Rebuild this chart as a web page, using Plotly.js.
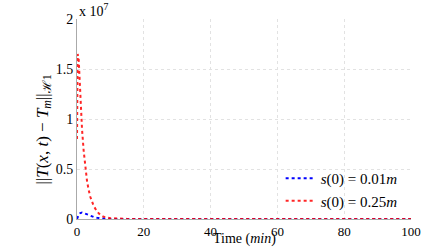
<!DOCTYPE html>
<html><head><meta charset="utf-8">
<script src="https://cdn.plot.ly/plotly-3.0.1.min.js"></script>
<style>html,body{margin:0;padding:0;background:#fff}#c{width:443px;height:249px}</style>
</head><body><div id="c"></div>
<script>
// values in units of 1e7
const timeRed = [0, 0.2, 0.5, 0.75, 1, 1.5, 2, 2.5, 3, 3.5, 4, 5, 6, 7, 8, 10, 12, 15, 20, 30, 40, 50, 60, 70, 80, 90, 100];
const normRed = [0.8, 1.65, 1.6, 1.4, 1.2, 0.9, 0.68, 0.5, 0.38, 0.29, 0.22, 0.13, 0.075, 0.04, 0.022, 0.008, 0.003, 0.001, 0, 0, 0, 0, 0, 0, 0, 0, 0];
const timeBlue = [0, 0.5, 1, 1.5, 2, 3, 4, 5, 6, 7, 8, 10, 15, 20, 30, 40, 50, 60, 70, 80, 90, 100];
const normBlue = [0, 0.04, 0.06, 0.065, 0.06, 0.045, 0.03, 0.02, 0.012, 0.007, 0.004, 0.001, 0, 0, 0, 0, 0, 0, 0, 0, 0, 0];
const labelBlue = '<i>s</i>(0) = 0.01<i>m</i>';
const labelRed = '<i>s</i>(0) = 0.25<i>m</i>';
const xTicks = [0, 20, 40, 60, 80, 100];
const yTicks = [0, 0.5, 1, 1.5, 2];
const yTickText = ['0', '0.5', '1', '1.5', '2'];

const fam = 'Liberation Serif';
const traces = [
  {x: timeBlue, y: normBlue, type: 'scatter', mode: 'lines', name: labelBlue,
   line: {color: 'rgb(0,0,255)', width: 2, dash: 'dot'}},
  {x: timeRed, y: normRed, type: 'scatter', mode: 'lines', name: labelRed,
   line: {color: 'rgb(255,0,0)', width: 2, dash: 'dot'}, opacity: 0.85}
];
const layout = {
  width: 443, height: 249,
  margin: {l: 77, r: 32, t: 19, b: 30},
  paper_bgcolor: '#fff', plot_bgcolor: '#fff',
  font: {family: fam, size: 13, color: '#000'},
  showlegend: true,
  legend: {x: 0.975, y: 0.01, xanchor: 'right', yanchor: 'bottom', bgcolor: 'rgba(0,0,0,0)',
    font: {family: fam, size: 15, color: '#000'}, itemwidth: 30, tracegroupgap: 0},
  xaxis: {range: [0, 100], tickvals: xTicks, ticks: '', showline: true, linecolor: '#aaa', linewidth: 1,
    showgrid: true, gridcolor: '#e2e2e2', griddash: 'dot', zeroline: false,
    tickfont: {family: fam, size: 13, color: '#000'}},
  yaxis: {range: [0, 2], tickvals: yTicks, ticktext: yTickText, ticks: '', showline: true, linecolor: '#aaa', linewidth: 1,
    showgrid: true, gridcolor: '#e2e2e2', griddash: 'dot', zeroline: false,
    tickfont: {family: fam, size: 14, color: '#000'}},
  annotations: [
    {xref: 'paper', yref: 'paper', x: 0.0, y: 0.99, xanchor: 'left', yanchor: 'bottom',
     text: 'x 10<sup>7</sup>', showarrow: false, font: {family: fam, size: 14, color: '#000'}},
    {xref: 'paper', yref: 'paper', x: 0.5, y: -0.15, xanchor: 'center', yanchor: 'bottom',
     text: 'Time (<i>min</i>)', showarrow: false, font: {family: fam, size: 14, color: '#000'}},
    {xref: 'paper', yref: 'paper', x: -0.1, y: 0.445, xanchor: 'center', yanchor: 'middle', textangle: -90,
     text: '||<i>T</i>(<i>x</i>, <i>t</i>) − <i>T<sub>m</sub></i>||<sub>ℋ1</sub>', showarrow: false,
     font: {family: fam, size: 17, color: '#000'}}
  ]
};
Plotly.newPlot('c', traces, layout, {displayModeBar: false, staticPlot: true});
</script></body></html>
